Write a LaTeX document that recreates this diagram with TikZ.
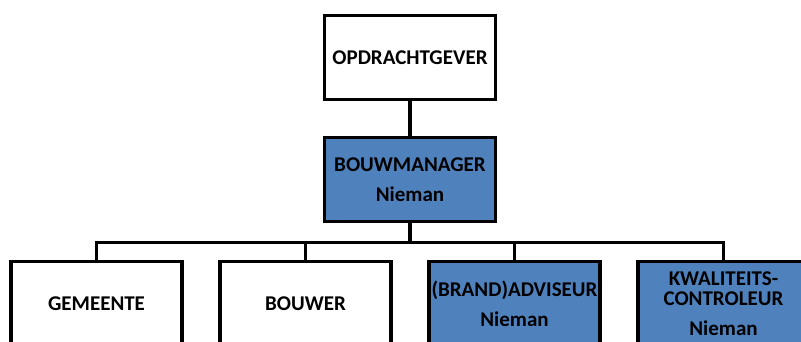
\documentclass[tikz,border=0pt]{standalone}
\usepackage{fontspec}
\setmainfont{Carlito}
\definecolor{orgblue}{RGB}{79,129,189}
\begin{document}
\begin{tikzpicture}[x=1pt, y=1pt,
    edge from parent path=
    {(\tikzparentnode.south) -- +(0,-19pt) -| (\tikzchildnode.north)},
    edge from parent/.style={draw, line width=3.5pt},
    level 1/.style={level distance=122pt},
    level 2/.style={level distance=124pt, sibling distance=209pt},
    every node/.style={draw, line width=3.5pt, fill=white, minimum width=171pt,
                       minimum height=84pt, align=center, inner sep=2pt,
                       font=\fontsize{21}{20}\selectfont\bfseries},
    blue/.style={fill=orgblue}]

\useasboundingbox (0,-341) rectangle (801,0);
\clip (0,-341) rectangle (801,0);

\node (opdr) at (410,-57.5) {OPDRACHTGEVER}
    child {node[blue] (bm) {BOUWMANAGER\\[10pt]Nieman}
        child {node (gem) {GEMEENTE}}
        child {node (bouwer) {BOUWER}}
        child {node[blue] (adv) {(BRAND)ADVISEUR\\[10pt]Nieman}}
        child {node[blue] (kwal) {KWALITEITS-\\CONTROLEUR\\[10pt]Nieman}}
    };

\end{tikzpicture}
\end{document}
